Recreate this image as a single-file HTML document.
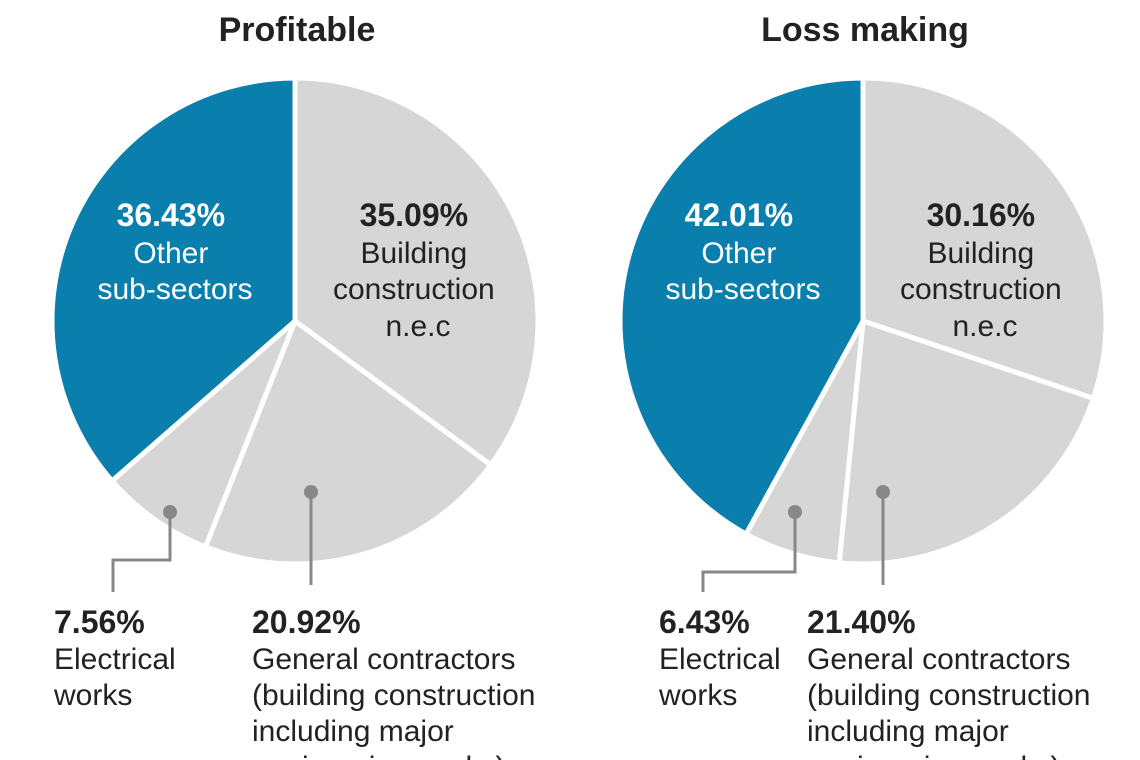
<!DOCTYPE html>
<html>
<head>
<meta charset="utf-8">
<style>
  html,body{margin:0;padding:0;background:#fff;}
  body{width:1140px;height:760px;overflow:hidden;position:relative;}
  svg{position:absolute;left:0;top:0;}
  text{font-family:"Liberation Sans",sans-serif;}
</style>
</head>
<body>
<svg id="chart" width="1140" height="760" viewBox="0 0 1140 760">
  <text x="297" y="41" text-anchor="middle" font-size="34" font-weight="bold" fill="#222">Profitable</text>
  <text x="865" y="41" text-anchor="middle" font-size="34" font-weight="bold" fill="#222">Loss making</text>
  <g id="pies"></g>
  <g id="labels" font-size="30" fill="#222">
    <text text-anchor="middle" fill="#fff">
      <tspan x="175" y="226" font-weight="bold" font-size="32">36.43%</tspan>
      <tspan x="175" y="263">Other</tspan>
      <tspan x="175" y="299">sub-sectors</tspan>
    </text>
    <text text-anchor="middle">
      <tspan x="418" y="226" font-weight="bold" font-size="32">35.09%</tspan>
      <tspan x="418" y="263">Building</tspan>
      <tspan x="418" y="299">construction</tspan>
      <tspan x="418" y="336">n.e.c</tspan>
    </text>
    <text text-anchor="middle" fill="#fff">
      <tspan x="743" y="226" font-weight="bold" font-size="32">42.01%</tspan>
      <tspan x="743" y="263">Other</tspan>
      <tspan x="743" y="299">sub-sectors</tspan>
    </text>
    <text text-anchor="middle">
      <tspan x="985" y="226" font-weight="bold" font-size="32">30.16%</tspan>
      <tspan x="985" y="263">Building</tspan>
      <tspan x="985" y="299">construction</tspan>
      <tspan x="985" y="336">n.e.c</tspan>
    </text>
    <g>
      <circle cx="170" cy="512" r="7" fill="#888"/>
      <polyline points="170,512 170,560 113,560 113,592" fill="none" stroke="#888" stroke-width="3"/>
      <text><tspan x="54" y="633" font-weight="bold" font-size="32">7.56%</tspan><tspan x="54" y="669">Electrical</tspan><tspan x="54" y="705">works</tspan></text>
    </g>
    <g>
      <circle cx="311" cy="492" r="7" fill="#888"/>
      <polyline points="311,492 311,585" fill="none" stroke="#888" stroke-width="3"/>
      <text><tspan x="252" y="633" font-weight="bold" font-size="32">20.92%</tspan><tspan x="252" y="669">General contractors</tspan><tspan x="252" y="705">(building construction</tspan><tspan x="252" y="741">including major</tspan><tspan x="252" y="777">engineering works)</tspan></text>
    </g>
    <g>
      <circle cx="795" cy="512" r="7" fill="#888"/>
      <polyline points="795,512 795,572 703,572 703,592" fill="none" stroke="#888" stroke-width="3"/>
      <text><tspan x="659" y="633" font-weight="bold" font-size="32">6.43%</tspan><tspan x="659" y="669">Electrical</tspan><tspan x="659" y="705">works</tspan></text>
    </g>
    <g>
      <circle cx="883" cy="492" r="7" fill="#888"/>
      <polyline points="883,492 883,585" fill="none" stroke="#888" stroke-width="3"/>
      <text><tspan x="807" y="633" font-weight="bold" font-size="32">21.40%</tspan><tspan x="807" y="669">General contractors</tspan><tspan x="807" y="705">(building construction</tspan><tspan x="807" y="741">including major</tspan><tspan x="807" y="777">engineering works)</tspan></text>
    </g>
  </g>
</svg>
<script>
const categories = ["Building construction n.e.c", "General contractors", "Electrical works", "Other sub-sectors"];
const profitableValues = [35.09, 20.92, 7.56, 36.43];
const lossValues = [30.16, 21.40, 6.43, 42.01];
const sliceColors = ["#d6d6d6", "#d6d6d6", "#d6d6d6", "#0a7fad"];

const NS = "http://www.w3.org/2000/svg";
const pies = document.getElementById("pies");

function drawPie(values, cx, cy, r, prefix) {
  const total = values.reduce((a, b) => a + b, 0);
  let acc = 0;
  values.forEach((v, i) => {
    const a0 = acc / total * 2 * Math.PI;
    acc += v;
    const a1 = acc / total * 2 * Math.PI;
    const x0 = cx + r * Math.sin(a0), y0 = cy - r * Math.cos(a0);
    const x1 = cx + r * Math.sin(a1), y1 = cy - r * Math.cos(a1);
    const large = (a1 - a0) > Math.PI ? 1 : 0;
    const p = document.createElementNS(NS, "path");
    p.setAttribute("d", `M${cx},${cy} L${x0},${y0} A${r},${r} 0 ${large} 1 ${x1},${y1} Z`);
    p.setAttribute("fill", sliceColors[i]);
    p.setAttribute("stroke", "#fff");
    p.setAttribute("stroke-width", "5");
    p.setAttribute("stroke-linejoin", "round");
    
    
    pies.appendChild(p);
  });
}
drawPie(profitableValues, 295, 321, 243, "profitable");
drawPie(lossValues, 863, 321, 243, "loss-making");
</script>
</body>
</html>
